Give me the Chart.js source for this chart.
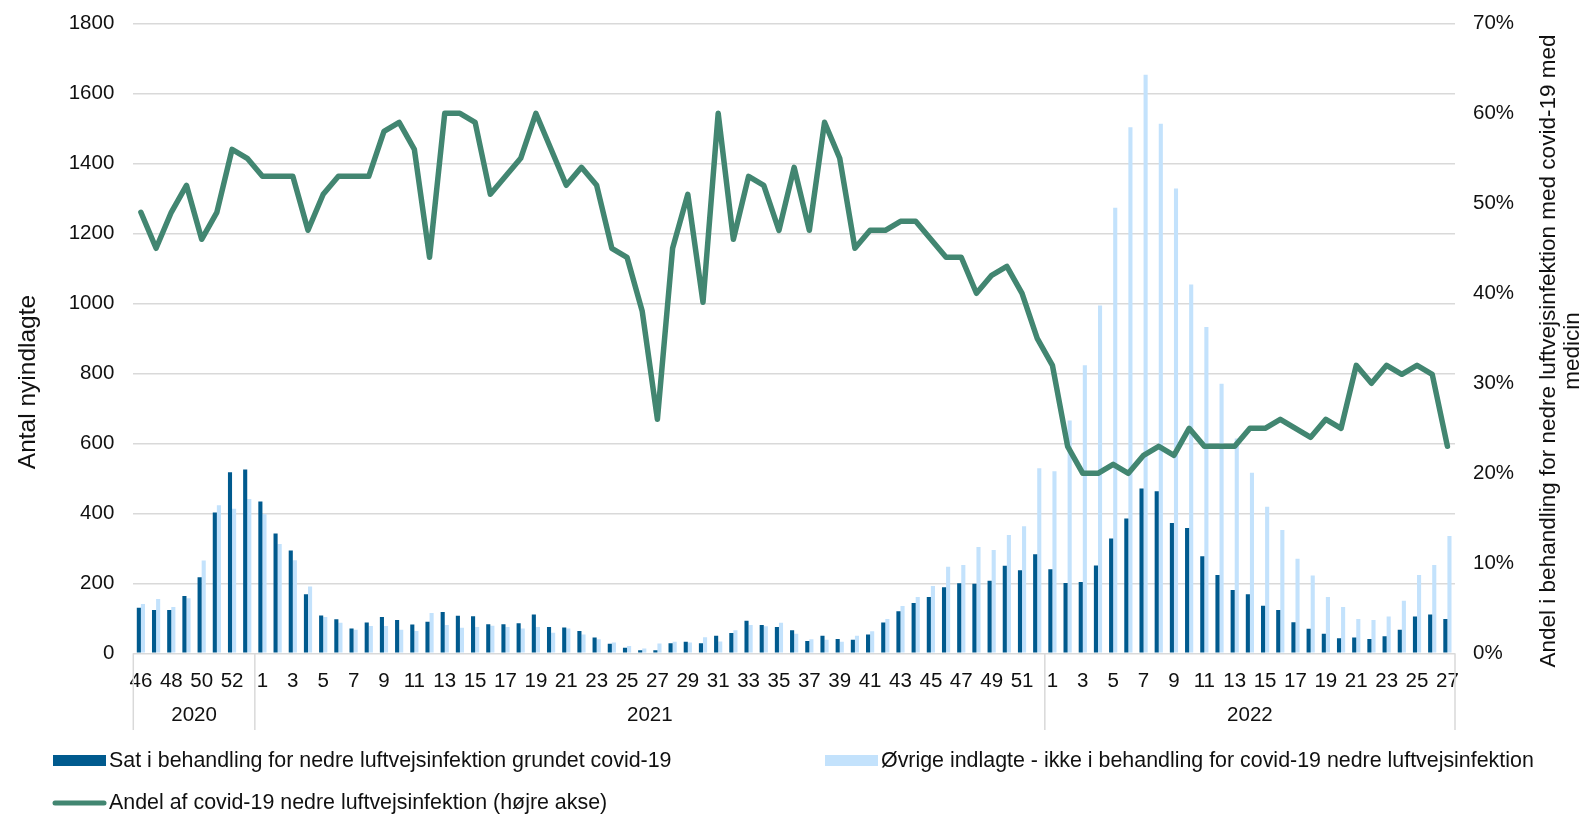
<!DOCTYPE html>
<html lang="da">
<head>
<meta charset="utf-8">
<title>Nyindlagte med covid-19</title>
<script src="https://cdn.jsdelivr.net/npm/chart.js@4.4.1/dist/chart.umd.min.js"></script>
<style>
  html, body { margin: 0; padding: 0; background: #fff; }
  #wrap { width: 1587px; height: 814px; }
</style>
</head>
<body>
<div id="wrap"><canvas id="grafico" width="1587" height="814"></canvas></div>
<script>
// Uger pr. år (kategorier)
const uger2020 = [46, 47, 48, 49, 50, 51, 52, 53];
const uger2021 = [1, 2, 3, 4, 5, 6, 7, 8, 9, 10, 11, 12, 13, 14, 15, 16, 17, 18, 19, 20, 21, 22, 23, 24, 25, 26,
  27, 28, 29, 30, 31, 32, 33, 34, 35, 36, 37, 38, 39, 40, 41, 42, 43, 44, 45, 46, 47, 48, 49, 50, 51, 52];
const uger2022 = [1, 2, 3, 4, 5, 6, 7, 8, 9, 10, 11, 12, 13, 14, 15, 16, 17, 18, 19, 20, 21, 22, 23, 24, 25, 26, 27];
const aar = ['2020', '2021', '2022'];

// Sat i behandling for nedre luftvejsinfektion grundet covid-19
const behandlet = [
  130, 124, 124, 164, 217, 402, 517, 525,
  434, 342, 294, 169, 108, 97, 71, 88, 104, 95, 82, 90, 118, 107, 106, 83, 83, 86, 111, 75, 74, 64, 45, 27, 16, 9,
  9, 29, 33, 29, 50, 58, 93, 81, 75, 66, 35, 50, 41, 39, 54, 88, 120, 144, 161, 189, 200, 199, 207, 250, 237, 283,
  240, 201, 204, 251, 328, 385, 471, 463, 372, 358, 277, 224, 181, 169, 136, 124, 89, 70, 56, 43, 45, 41, 49, 67, 105, 111, 98
];

// Øvrige indlagte
const oevrige = [
  141, 155, 132, 157, 265, 423, 413, 441,
  398, 312, 266, 191, 104, 87, 67, 78, 78, 67, 64, 115, 81, 73, 75, 79, 75, 71, 75, 59, 71, 54, 40, 31, 21, 14,
  28, 33, 31, 46, 34, 66, 81, 77, 87, 56, 40, 39, 33, 50, 63, 98, 135, 161, 192, 247, 252, 304, 295, 338, 363, 529,
  520, 665, 823, 994, 1273, 1503, 1653, 1513, 1328, 1054, 932, 770, 614, 516, 419, 352, 270, 222, 161, 132, 98, 95, 105, 150, 224, 252, 335
];

// Andel af covid-19 nedre luftvejsinfektion i procent (højre akse)
const andel = [
  49, 45, 49, 52, 46, 49, 56, 55,
  53, 53, 53, 47, 51, 53, 53, 53, 58, 59, 56, 44, 60, 60, 59, 51, 53, 55, 60, 56, 52, 54, 52, 45, 44, 38,
  26, 45, 51, 39, 60, 46, 53, 52, 47, 54, 47, 59, 55, 45, 47, 47, 48, 48, 46, 44, 44, 40, 42, 43, 40, 35,
  32, 23, 20, 20, 21, 20, 22, 23, 22, 25, 23, 23, 23, 25, 25, 26, 25, 24, 26, 25, 32, 30, 32, 31, 32, 31, 23
];

const navne = [
  'Sat i behandling for nedre luftvejsinfektion grundet covid-19',
  'Øvrige indlagte - ikke i behandling for covid-19 nedre luftvejsinfektion',
  'Andel af covid-19 nedre luftvejsinfektion (højre akse)'
];
const titelVenstre = 'Antal nyindlagte';
const titelHoejre = ['Andel i behandling for nedre luftvejsinfektion med covid-19 med', 'medicin'];

const kategorier = [...uger2020, ...uger2021, ...uger2022];

const skrift = '"Liberation Sans", Arial, sans-serif';
const tekstFarve = '#111111';
const gitterFarve = '#d9d9d9';
const moerkBlaa = '#005a8e';
const lysBlaa = '#c3e2fc';
const groen = '#428671';

// Tegner årstal, skillelinjer, aksetitler og forklaring
const ekstraTegning = {
  id: 'ekstraTegning',
  afterDraw(chart) {
    const ctx = chart.ctx;
    const x = chart.scales.x;
    const area = chart.chartArea;
    ctx.save();

    // Skillelinjer mellem årene
    const grupper = [uger2020.length, uger2021.length, uger2022.length];
    const kanter = [area.left];
    let start = 0;
    grupper.forEach((n, i) => {
      const slut = start + n;
      if (i < grupper.length - 1) {
        kanter.push((x.getPixelForValue(slut - 1) + x.getPixelForValue(slut)) / 2);
      } else {
        kanter.push(area.right);
      }
      start = slut;
    });
    ctx.strokeStyle = gitterFarve;
    ctx.lineWidth = 1.5;
    kanter.forEach(k => {
      ctx.beginPath();
      ctx.moveTo(k, area.bottom);
      ctx.lineTo(k, 730);
      ctx.stroke();
    });

    // Årstal
    ctx.fillStyle = tekstFarve;
    ctx.font = '20.5px ' + skrift;
    ctx.textAlign = 'center';
    ctx.textBaseline = 'middle';
    aar.forEach((a, i) => ctx.fillText(a, (kanter[i] + kanter[i + 1]) / 2, 715));

    // Aksetitler
    ctx.font = '24.5px ' + skrift;
    ctx.save();
    ctx.translate(28, 382);
    ctx.rotate(-Math.PI / 2);
    ctx.fillText(titelVenstre, 0, 0);
    ctx.restore();

    ctx.font = '22.5px ' + skrift;
    ctx.save();
    ctx.translate(1549, 351);
    ctx.rotate(-Math.PI / 2);
    ctx.fillText(titelHoejre[0], 0, 0);
    ctx.fillText(titelHoejre[1], 0, 24);
    ctx.restore();

    // Forklaring
    ctx.font = '21.4px ' + skrift;
    ctx.textAlign = 'left';
    ctx.fillStyle = moerkBlaa;
    ctx.fillRect(53, 755, 53, 11);
    ctx.fillStyle = lysBlaa;
    ctx.fillRect(825, 755, 53, 11);
    ctx.strokeStyle = groen;
    ctx.lineWidth = 5;
    ctx.lineCap = 'round';
    ctx.beginPath();
    ctx.moveTo(55, 803);
    ctx.lineTo(104, 803);
    ctx.stroke();

    ctx.fillStyle = tekstFarve;
    ctx.fillText(navne[0], 109, 761);
    ctx.fillText(navne[1], 881, 761);
    ctx.fillText(navne[2], 109, 803);
    ctx.restore();
  }
};

// Fast bredde og ingen ekstra top/bund-luft fra y-aksernes tekster
function fastAkse(bredde) {
  return s => {
    s.width = bredde;
    s.paddingTop = 0;
    s.paddingBottom = 0;
  };
}

new Chart(document.getElementById('grafico'), {
  type: 'bar',
  data: {
    labels: kategorier,
    datasets: [
      {
        label: navne[0],
        data: behandlet,
        backgroundColor: moerkBlaa,
        yAxisID: 'y',
        order: 1,
        categoryPercentage: 0.54,
        barPercentage: 1
      },
      {
        label: navne[1],
        data: oevrige,
        backgroundColor: lysBlaa,
        yAxisID: 'y',
        order: 1,
        categoryPercentage: 0.54,
        barPercentage: 1
      },
      {
        type: 'line',
        label: navne[2],
        data: andel,
        borderColor: groen,
        borderWidth: 5.5,
        borderJoinStyle: 'round',
        borderCapStyle: 'round',
        pointRadius: 0,
        tension: 0,
        yAxisID: 'y1',
        order: 0
      }
    ]
  },
  options: {
    responsive: false,
    animation: false,
    devicePixelRatio: 1,
    layout: { padding: { top: 23.3, left: 0, right: 0, bottom: 0 } },
    plugins: {
      legend: { display: false },
      tooltip: { enabled: false }
    },
    scales: {
      x: {
        offset: true,
        grid: { display: false, drawTicks: false },
        border: { display: false },
        ticks: {
          autoSkip: false,
          maxRotation: 0,
          padding: 16,
          color: tekstFarve,
          font: { size: 20.5, family: skrift },
          callback: (v, i) => (i % 2 === 0 ? kategorier[i] : '')
        },
        afterFit: s => { s.height = 814 - 653.3; }
      },
      y: {
        position: 'left',
        min: 0,
        max: 1800,
        grid: { color: gitterFarve, lineWidth: 1.5, drawTicks: false },
        border: { display: false },
        ticks: {
          stepSize: 200,
          padding: 19,
          color: tekstFarve,
          font: { size: 20.5, family: skrift },
          callback: v => String(v)
        },
        afterFit: fastAkse(133.3)
      },
      y1: {
        position: 'right',
        min: 0,
        max: 70,
        grid: { display: false, drawTicks: false },
        border: { display: false },
        ticks: {
          stepSize: 10,
          padding: 18,
          color: tekstFarve,
          font: { size: 20.5, family: skrift },
          callback: v => v + '%'
        },
        afterFit: fastAkse(132)
      }
    }
  },
  plugins: [ekstraTegning]
});
</script>
</body>
</html>
